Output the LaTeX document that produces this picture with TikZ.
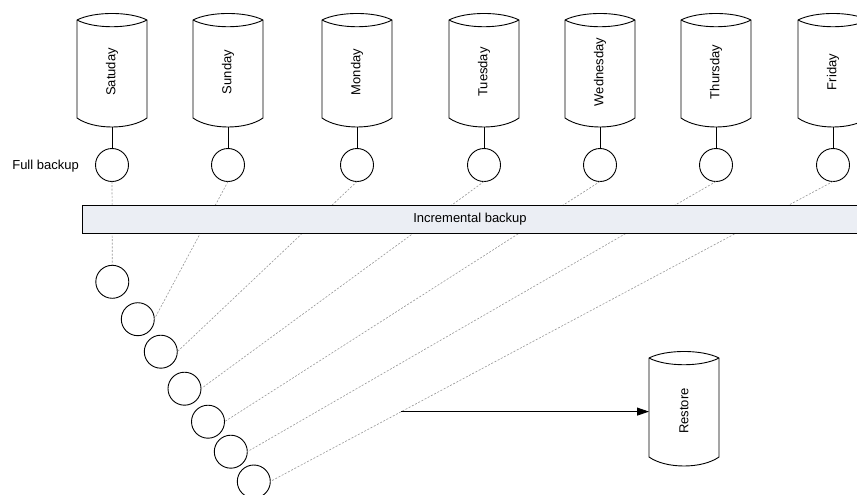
\documentclass[tikz,border=0pt]{standalone}
\usepackage{fontspec}
\setmainfont{Liberation Sans}
\usetikzlibrary{calc,arrows.meta}
\definecolor{barfill}{RGB}{235,238,244}
\definecolor{tapeline}{RGB}{150,150,150}

% Outline of a tape drum drawn around an (invisible) node of fixed size
\newcommand{\drawdrum}[1]{%
  \path[drumline] ($(#1.north west)+(0,6)$)
      .. controls +(17,-8.7) and +(-17,-8.7) .. ($(#1.north east)+(0,6)$)
      -- ($(#1.south east)+(0,-9)$)
      .. controls +(-17,12) and +(17,12) .. ($(#1.south west)+(0,-9)$)
      -- cycle;
  \draw[drumline, fill=none] ($(#1.north west)+(0,6)$)
      .. controls +(17,9) and +(-17,9) .. ($(#1.north east)+(0,6)$);
}

\tikzset{
  drumbox/.style={minimum width=70pt, minimum height=113pt, inner sep=0pt, outer sep=0pt},
  drumline/.style={draw=black, line width=0.9pt, fill=white},
  tapecirc/.style={circle, draw=black, line width=0.9pt, fill=white,
                   minimum size=33pt, inner sep=0pt, outer sep=0pt},
  dashline/.style={draw=tapeline, line width=0.6pt, dash pattern=on 2pt off 1.6pt},
  linkline/.style={draw=black, line width=0.9pt},
  barbox/.style={draw=black, line width=0.9pt, fill=barfill,
                 minimum width=776pt, minimum height=27.5pt, inner sep=0pt},
  lbl/.style={font=\fontsize{13}{15}\selectfont, inner sep=0pt}
}

\begin{document}
\begin{tikzpicture}[x=1pt, y=-1pt]
\useasboundingbox (0,0) rectangle (857,495);
\clip (0,0) rectangle (857,495);

% daily tapes with their full-backup points
\foreach \i/\x/\day in {1/112/Satuday, 2/228/Sunday, 3/357/Monday, 4/484/Tuesday,
                        5/600/Wednesday, 6/716/Thursday, 7/833/Friday} {
  \node[drumbox] (d\i) at (\x,70.5) {};
  \drawdrum{d\i}
  \node[lbl, rotate=90] (t\i) at ($(d\i.center)+(0,1.5)$) {\day};
  \node[tapecirc] (f\i) at (\x,165) {};
  \draw[linkline] (d\i.south) -- (f\i.north);
}

\node[lbl, anchor=east] (fulllbl) at (79,166) {Full backup};

% incremental backup points
\foreach \i/\x/\y in {1/112.3/281.8, 2/137.8/319.2, 3/160.8/351.7, 4/184.5/388.7,
                      5/208/421.7, 6/230.8/451.7, 7/253.8/481.5} {
  \node[tapecirc] (i\i) at (\x,\y) {};
}

% dashed links from full backups to incremental points
\draw[dashline] (f1.south) -- (i1.north);
\draw[dashline] (f2.south) -- (i2.east);
\draw[dashline] (f3.south) -- (i3.east);
\draw[dashline] (f4.south) -- (i4.east);
\draw[dashline] (f5.south) -- (i5.east);
\draw[dashline] (f6.south) -- (i6.east);
\draw[dashline] (f7.south) -- coordinate[pos=0.767] (rs) (i7.east);

% incremental backup bar
\node[barbox, lbl, minimum width=776pt, minimum height=27.5pt] (bar) at (470,219.25) {Incremental backup};

% restore drum
\node[drumbox, minimum height=114pt] (r) at (684,409) {};
\drawdrum{r}
\node[lbl, rotate=90] (rt) at ($(r.center)+(0,2)$) {Restore};

\draw[linkline, -{Triangle[length=12pt,width=8pt]}] (rs) -- (rs -| r.west);
\end{tikzpicture}
\end{document}
